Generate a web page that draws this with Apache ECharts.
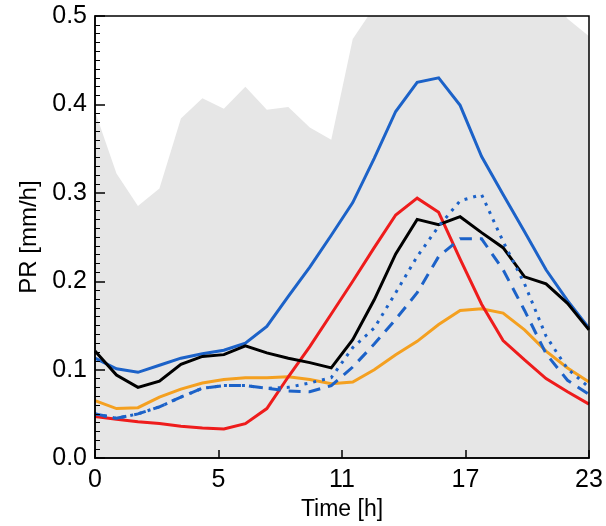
<!DOCTYPE html>
<html>
<head>
<meta charset="utf-8">
<script src="https://cdn.jsdelivr.net/npm/echarts@6/dist/echarts.min.js"></script>
<style>
html,body{margin:0;padding:0;background:#fff;}
#c{width:606px;height:526px;}
</style>
</head>
<body>
<div id="c"></div>
<script>
var hours = [0,1,2,3,4,5,6,7,8,9,10,11,12,13,14,15,16,17,18,19,20,21,22,23];
var xTickLabels = ['0','5','11','17','23'];
var envelope = [0.392,0.322,0.285,0.305,0.384,0.407,0.395,0.420,0.394,0.397,0.374,0.360,0.474,0.510,0.560,0.580,0.600,0.600,0.580,0.560,0.550,0.530,0.497,0.477];
var blueSolid = [0.113,0.101,0.097,0.105,0.113,0.118,0.122,0.130,0.149,0.183,0.216,0.252,0.289,0.339,0.392,0.425,0.430,0.399,0.341,0.298,0.256,0.213,0.178,0.147];
var black = [0.121,0.094,0.080,0.087,0.106,0.115,0.117,0.127,0.119,0.113,0.108,0.102,0.134,0.179,0.231,0.270,0.264,0.273,0.255,0.238,0.205,0.197,0.175,0.145];
var red = [0.047,0.044,0.041,0.039,0.036,0.034,0.033,0.039,0.056,0.092,0.126,0.163,0.200,0.238,0.275,0.294,0.278,0.225,0.174,0.133,0.111,0.090,0.075,0.061];
var orange = [0.065,0.056,0.057,0.069,0.078,0.085,0.089,0.091,0.091,0.092,0.089,0.084,0.086,0.100,0.117,0.132,0.151,0.167,0.169,0.164,0.145,0.121,0.102,0.086];
var blueDotted = [0.050,0.045,0.050,0.058,0.069,0.079,0.082,0.082,0.079,0.080,0.085,0.091,0.125,0.147,0.187,0.228,0.262,0.291,0.298,0.245,0.197,0.138,0.101,0.080];
var blueDashed = [0.050,0.045,0.050,0.058,0.069,0.079,0.082,0.082,0.079,0.076,0.075,0.082,0.103,0.129,0.157,0.187,0.228,0.248,0.248,0.213,0.167,0.118,0.088,0.072];

function pts(vals){ return hours.map(function(h,i){ return [h, vals[i]]; }); }

var FONT = '"Liberation Sans", Arial, Helvetica, sans-serif';
var BLUE = '#1c62c8';
var chart = echarts.init(document.getElementById('c'), null, {renderer:'canvas'});

function lineSeries(name, vals, color, type, z){
  return {
    name:name, type:'line', data:pts(vals), symbol:'none', z:z,
    lineStyle:{color:color, width:3, type:type, cap:'butt', join:'miter'},
    itemStyle:{color:color}, animation:false
  };
}

chart.setOption({
  animation:false,
  backgroundColor:'#fff',
  grid:{left:95, right:17, top:16, bottom:63, show:true, z:20,
        backgroundColor:'transparent', borderColor:'#000', borderWidth:1.5},
  xAxis:{
    type:'value', min:0, max:23, interval:5.75, position:'bottom', zlevel:1,
    axisLine:{show:true, lineStyle:{color:'#000', width:1.5}},
    axisTick:{show:true, inside:true, length:8, lineStyle:{color:'#000', width:1.5}},
    splitLine:{show:false},
    name:'Time [h]', nameLocation:'middle', nameGap:35,
    nameTextStyle:{fontFamily:FONT, fontSize:23, color:'#000'},
    axisLabel:{show:true, margin:10, fontFamily:FONT, fontSize:25, color:'#000',
      formatter:function(v){ var i = Math.round(v/5.75); return xTickLabels[i] !== undefined ? xTickLabels[i] : ''; }}
  },
  yAxis:{
    type:'value', min:0, max:0.5, interval:0.1, position:'left', zlevel:1,
    axisLine:{show:true, lineStyle:{color:'#000', width:1.5}},
    axisTick:{show:true, inside:true, length:10, lineStyle:{color:'#000', width:1.5}},
    minorTick:{show:true, splitNumber:10, length:5, lineStyle:{color:'#000', width:1}},
    splitLine:{show:false},
    name:'PR [mm/h]', nameLocation:'middle', nameGap:54,
    nameTextStyle:{fontFamily:FONT, fontSize:24, color:'#000'},
    axisLabel:{show:true, margin:8, fontFamily:FONT, fontSize:25, color:'#000',
      formatter:function(v){ return v.toFixed(1); }}
  },
  series:[
    {
      name:'range', type:'line', data:pts(envelope), symbol:'none', z:1, clip:true,
      lineStyle:{width:0, color:'#e6e6e6'}, areaStyle:{color:'#e6e6e6', opacity:1},
      itemStyle:{color:'#e6e6e6'}, animation:false
    },
    lineSeries('blue', blueSolid, BLUE, 'solid', 3),
    lineSeries('orange', orange, '#f4a020', 'solid', 3),
    lineSeries('red', red, '#ee1c1c', 'solid', 4),
    lineSeries('black', black, '#000', 'solid', 4),
    lineSeries('dotted', blueDotted, BLUE, [3,6], 5),
    lineSeries('dashed', blueDashed, BLUE, [12,8], 5)
  ]
});
</script>
</body>
</html>
